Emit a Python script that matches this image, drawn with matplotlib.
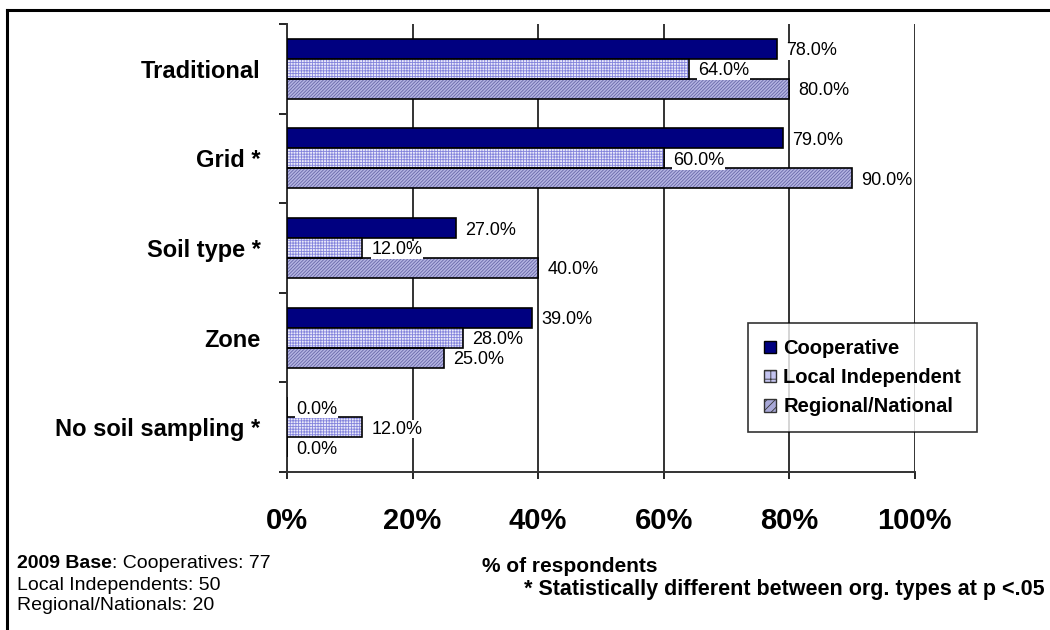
import matplotlib.pyplot as plt
import numpy as np
from matplotlib.patches import Patch
from matplotlib.lines import Line2D

plt.rcParams['font.family'] = ['Liberation Sans', 'DejaVu Sans']
plt.rcParams['hatch.linewidth'] = 0.6

# Data
categories = ['Traditional', 'Grid *', 'Soil type *', 'Zone', 'No soil sampling *']
cooperative = [78, 79, 27, 39, 0]
local_independent = [64, 60, 12, 28, 12]
regional_national = [80, 90, 40, 25, 0]
series_names = ['Cooperative', 'Local Independent', 'Regional/National']
x_ticks = [0, 20, 40, 60, 80, 100]

fig = plt.figure(figsize=(10.5, 6.3), dpi=100)
ax = fig.add_axes([0.2733, 0.2508, 0.598, 0.7111])

y = np.arange(len(categories))
h = 0.223

# (face, hatch, hatch colour)
styles = [
    ('#000080', None, None),
    ('#eaeafa', '++++++', '#8484dc'),
    ('#b4b4e2', '//////////', '#6868a8'),
]

for i, (vals, (fc, hatch, hc)) in enumerate(zip([cooperative, local_independent, regional_national], styles)):
    pos = y + (i - 1) * h
    if hatch:
        ax.barh(pos, vals, h, color=fc, hatch=hatch, edgecolor=hc, linewidth=0, zorder=3)
        ax.barh(pos, vals, h, fill=False, edgecolor='black', linewidth=1.2, zorder=4)
    else:
        ax.barh(pos, vals, h, color=fc, edgecolor='black', linewidth=1.2, zorder=3)
    for p, v in zip(pos, vals):
        ax.annotate(f'{v:.1f}%', xy=(v, p), xytext=(9, -2), textcoords='offset pixels',
                    ha='left', va='center', fontsize=13, zorder=6,
                    bbox=dict(facecolor='white', edgecolor='none', pad=0.5))

ax.set_xlim(0, 100)
ax.set_ylim(len(categories) - 0.5, -0.5)

ax.set_xticks(x_ticks)
ax.set_xticklabels([f'{t}%' for t in x_ticks], fontsize=21, fontweight='bold')
ax.tick_params(axis='x', length=5, width=1.2, pad=20)
ax.grid(axis='x', color='#333333', linewidth=1.4, zorder=0)

ax.set_yticks(y)
ax.set_yticklabels(categories, fontsize=17, fontweight='bold')
ax.tick_params(axis='y', which='major', length=0, pad=19)
ax.set_yticks(np.arange(len(categories) + 1) - 0.5, minor=True)
ax.tick_params(axis='y', which='minor', length=6, width=1.2)

for s in ['top', 'right']:
    ax.spines[s].set_visible(False)
for s in ['left', 'bottom']:
    ax.spines[s].set_linewidth(1.4)
    ax.spines[s].set_color('#333333')

handles = [
    Patch(facecolor='#000080', edgecolor='black', label=series_names[0]),
    Patch(facecolor='#c4c4f0', edgecolor='#333333', hatch='++', label=series_names[1]),
    Patch(facecolor='#a8a8d8', edgecolor='#333333', hatch='////', label=series_names[2]),
]
leg = fig.legend(handles=handles, loc='upper left', bbox_to_anchor=(0.7124, 0.4873),
                 prop={'weight': 'bold', 'size': 14.5}, frameon=True, fancybox=False,
                 edgecolor='black', handlelength=0.6, handleheight=0.6, handletextpad=0.35,
                 labelspacing=0.5, borderpad=0.8, borderaxespad=0)
leg.get_frame().set_linewidth(1.2)

# Footnotes
t1 = fig.text(17 / 1050, 1 - 563 / 630, '2009 Base', fontsize=14, fontweight='bold', va='center')
ax.annotate(': Cooperatives: 77', xy=(1, 0), xycoords=t1, va='bottom', ha='left', fontsize=14)
fig.text(17 / 1050, 1 - 585 / 630, 'Local Independents: 50', fontsize=14, va='center')
fig.text(17 / 1050, 1 - 606 / 630, 'Regional/Nationals: 20', fontsize=14, va='center')
fig.text(570 / 1050, 1 - 567 / 630, '% of respondents', fontsize=15, fontweight='bold',
         va='center', ha='center')
fig.text(1045 / 1050, 1 - 589 / 630, '* Statistically different between org. types at p <.05',
         fontsize=15.5, fontweight='bold', va='center', ha='right')

# Outer border (top and left)
fig.add_artist(Line2D([7 / 1050, 1], [1 - 10 / 630, 1 - 10 / 630], color='black', linewidth=2.2))
fig.add_artist(Line2D([7 / 1050, 7 / 1050], [0, 1 - 10 / 630], color='black', linewidth=2.2))

fig.savefig('out.png', dpi=100)
